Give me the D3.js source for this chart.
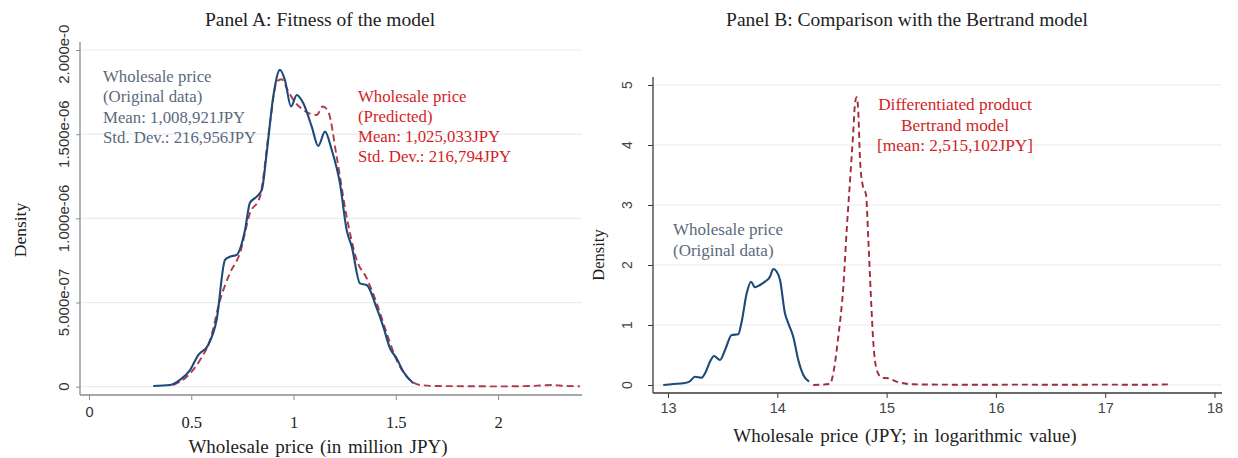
<!DOCTYPE html>
<html>
<head>
<meta charset="utf-8">
<script src="https://cdn.jsdelivr.net/npm/d3@7/dist/d3.min.js"></script>
<style>
  html, body { margin: 0; padding: 0; background: #ffffff; }
  svg { display: block; }
</style>
</head>
<body>
<svg id="chart" width="1238" height="458"></svg>
<script>
// ---- Panel A: kernel densities of wholesale price (million JPY), density in 1e-6 ----
const aOrigX = [0.314, 0.396, 0.445, 0.494, 0.534, 0.583, 0.624, 0.665, 0.689, 0.722, 0.763, 0.787, 0.820, 0.845, 0.869, 0.901, 0.934, 0.958, 0.988, 1.016, 1.048, 1.089, 1.121, 1.154, 1.187, 1.227, 1.260, 1.285, 1.325, 1.358, 1.407, 1.439, 1.472, 1.504, 1.537, 1.586];
const aOrigY = [0.004, 0.010, 0.040, 0.099, 0.188, 0.248, 0.396, 0.753, 0.772, 0.783, 0.931, 1.092, 1.129, 1.169, 1.389, 1.723, 1.882, 1.822, 1.664, 1.733, 1.684, 1.545, 1.430, 1.515, 1.406, 1.209, 0.931, 0.832, 0.614, 0.604, 0.466, 0.357, 0.228, 0.169, 0.089, 0.020];
const aPredX = [0.412, 0.478, 0.543, 0.592, 0.641, 0.689, 0.738, 0.787, 0.836, 0.885, 0.918, 0.942, 0.967, 0.999, 1.048, 1.113, 1.143, 1.170, 1.211, 1.260, 1.309, 1.358, 1.407, 1.456, 1.504, 1.570, 1.619, 1.700, 1.850, 2.000, 2.150, 2.220, 2.270, 2.330, 2.400];
const aPredY = [0.010, 0.059, 0.159, 0.277, 0.515, 0.674, 0.793, 1.030, 1.129, 1.565, 1.812, 1.826, 1.773, 1.704, 1.644, 1.614, 1.664, 1.634, 1.367, 1.010, 0.753, 0.644, 0.496, 0.317, 0.159, 0.040, 0.010, 0.004, 0.003, 0.002, 0.004, 0.008, 0.010, 0.004, 0.003];
const aDensityUnit = 1e-6;
const aXTicks = [0, 0.5, 1, 1.5, 2];
const aXTickLabels = ["0", "0.5", "1", "1.5", "2"];
const aYTicks = [0, 0.5e-6, 1e-6, 1.5e-6, 2e-6];
const aYTickLabels = ["0", "5.000e-07", "1.000e-06", "1.500e-06", "2.000e-06"];
const aOrigNote = ["Wholesale price", "(Original  data)", "Mean: 1,008,921JPY", "Std. Dev.: 216,956JPY"];
const aPredNote = ["Wholesale price", "(Predicted)", "Mean: 1,025,033JPY", "Std. Dev.: 216,794JPY"];

// ---- Panel B: log wholesale price densities ----
const bOrigX = [12.957, 13.048, 13.140, 13.195, 13.247, 13.308, 13.339, 13.384, 13.421, 13.476, 13.522, 13.583, 13.643, 13.674, 13.720, 13.759, 13.796, 13.842, 13.887, 13.933, 13.963, 13.995, 14.025, 14.070, 14.101, 14.146, 14.192, 14.238, 14.290];
const bOrigY = [0.000, 0.017, 0.028, 0.055, 0.138, 0.122, 0.195, 0.388, 0.483, 0.417, 0.583, 0.833, 0.845, 1.055, 1.528, 1.722, 1.628, 1.667, 1.722, 1.805, 1.933, 1.888, 1.750, 1.195, 1.028, 0.805, 0.417, 0.167, 0.055];
const bBertX = [14.329, 14.482, 14.512, 14.558, 14.604, 14.635, 14.672, 14.696, 14.711, 14.726, 14.741, 14.757, 14.781, 14.812, 14.833, 14.855, 14.879, 14.910, 14.955, 15.016, 15.092, 15.244, 15.400, 15.800, 16.200, 16.600, 17.000, 17.400, 17.610];
const bBertY = [0.000, 0.017, 0.195, 0.805, 1.638, 2.583, 3.583, 4.250, 4.695, 4.795, 4.555, 3.750, 3.333, 3.167, 2.417, 1.528, 0.695, 0.250, 0.122, 0.112, 0.055, 0.012, 0.008, 0.004, 0.006, 0.004, 0.006, 0.004, 0.012];
const bXTicks = [13, 14, 15, 16, 17, 18];
const bYTicks = [0, 1, 2, 3, 4, 5];
const bOrigNote = ["Wholesale price", "(Original  data)"];
const bBertNote = ["Differentiated  product", "Bertrand model", "[mean: 2,515,102JPY]"];

const SERIF = "'Liberation Serif', 'Times New Roman', serif";
const SANS = "'Liberation Sans', Arial, sans-serif";
const BLUE = "#1d4a78";
const RED_LINE = "#b23a48";
const RED_LINE_B = "#a02c3a";
const RED_TEXT = "#d21f26";
const SLATE = "#5b6a7d";
const GRID = "#e5eef2";

const svg = d3.select("#chart");

// ===================== Panel A =====================
const ax = d3.scaleLinear().domain([0, 2]).range([89, 498]);
const ay = d3.scaleLinear().domain([0, 2e-6]).range([386.7, 50]);
const A_LEFT = 80, A_RIGHT = 582, A_TOP = 42, A_BOTTOM = 395;

const gA = svg.append("g");

gA.append("text").attr("x", 320).attr("y", 19)
  .attr("text-anchor", "middle").attr("dominant-baseline", "central")
  .style("font-family", SERIF).style("font-size", "19.5px").attr("fill", "#222")
  .text("Panel A: Fitness of the model");

// gridlines
gA.append("g").selectAll("line").data(aYTicks).join("line")
  .attr("x1", A_LEFT + 1).attr("x2", A_RIGHT)
  .attr("y1", d => ay(d)).attr("y2", d => ay(d))
  .attr("stroke", GRID).attr("stroke-width", 1.2);

// y axis; the top label is clipped at the upper edge of the panel
const aClip = svg.append("defs").append("clipPath").attr("id", "aYLabClip");
aClip.append("rect").attr("x", 0).attr("y", 24).attr("width", A_LEFT).attr("height", 420);

const aYAxis = gA.append("g").attr("transform", `translate(${A_LEFT},0)`)
  .call(d3.axisLeft(ay).tickValues(aYTicks).tickSize(4).tickFormat(""));
aYAxis.select(".domain").attr("d", `M0,${A_TOP}V${A_BOTTOM}`).attr("stroke", "#8a8a8a").attr("stroke-width", 1.3);
aYAxis.selectAll(".tick line").attr("stroke", "#8a8a8a");
gA.append("g").attr("clip-path", "url(#aYLabClip)")
  .selectAll("text").data(aYTicks).join("text")
  .attr("transform", d => `translate(63,${ay(d)}) rotate(-90)`)
  .attr("text-anchor", "middle").attr("dominant-baseline", "central")
  .style("font-family", SANS).style("font-size", "15px").attr("fill", "#333")
  .text((d, i) => aYTickLabels[i]);

// x axis
const aXAxis = gA.append("g").attr("transform", `translate(0,${A_BOTTOM})`)
  .call(d3.axisBottom(ax).tickValues(aXTicks).tickSize(5).tickFormat((d, i) => aXTickLabels[i]));
aXAxis.select(".domain").attr("d", `M${A_LEFT},0H${A_RIGHT}`).attr("stroke", "#8a8a8a").attr("stroke-width", 1.3);
aXAxis.selectAll(".tick line").attr("stroke", "#8a8a8a");
aXAxis.selectAll(".tick text")
  .attr("y", 27).attr("dy", "0.35em")
  .style("font-family", SERIF).style("font-size", "16.5px").attr("fill", "#222");
aXAxis.selectAll(".tick").filter(d => d === 0).select("text")
  .attr("y", 17).style("font-family", SANS).style("font-size", "14.5px").attr("fill", "#333");

gA.append("text").attr("x", 318).attr("y", 446)
  .attr("text-anchor", "middle").attr("dominant-baseline", "central")
  .style("font-family", SERIF).style("font-size", "19px").style("word-spacing", "2px").attr("fill", "#222")
  .text("Wholesale price (in million JPY)");
gA.append("text").attr("transform", "translate(20,230) rotate(-90)")
  .attr("text-anchor", "middle").attr("dominant-baseline", "central")
  .style("font-family", SERIF).style("font-size", "17.5px").attr("fill", "#222")
  .text("Density");

const lineA = d3.line().curve(d3.curveMonotoneX);
const aPred = aPredX.map((x, i) => [ax(x), ay(aPredY[i] * aDensityUnit)]);
const aOrig = aOrigX.map((x, i) => [ax(x), ay(aOrigY[i] * aDensityUnit)]);
gA.append("path").attr("d", lineA(aPred)).attr("fill", "none")
  .attr("stroke", RED_LINE).attr("stroke-width", 1.9).attr("stroke-dasharray", "7,4");
gA.append("path").attr("d", lineA(aOrig)).attr("fill", "none")
  .attr("stroke", BLUE).attr("stroke-width", 2.1);

const noteA1 = gA.append("text").style("font-family", SERIF).style("font-size", "16.8px").attr("fill", SLATE);
aOrigNote.forEach((t, i) => noteA1.append("tspan").attr("x", 103).attr("y", 82 + i * 20.3).text(t));
const noteA2 = gA.append("text").style("font-family", SERIF).style("font-size", "16.8px").attr("fill", RED_TEXT);
aPredNote.forEach((t, i) => noteA2.append("tspan").attr("x", 358).attr("y", 102 + i * 20).text(t));

// ===================== Panel B =====================
const bx = d3.scaleLinear().domain([13, 18]).range([668, 1214.5]);
const by = d3.scaleLinear().domain([0, 5]).range([385, 85]);
const B_LEFT = 653, B_RIGHT = 1222, B_TOP = 77, B_BOTTOM = 393;

const gB = svg.append("g");
gB.append("text").attr("x", 907).attr("y", 19)
  .attr("text-anchor", "middle").attr("dominant-baseline", "central")
  .style("font-family", SERIF).style("font-size", "19.5px").attr("fill", "#222")
  .text("Panel B: Comparison with the Bertrand model");

gB.append("g").selectAll("line").data(bYTicks).join("line")
  .attr("x1", B_LEFT + 1).attr("x2", B_RIGHT)
  .attr("y1", d => by(d)).attr("y2", d => by(d))
  .attr("stroke", GRID).attr("stroke-width", 1.2);

const bYAxis = gB.append("g").attr("transform", `translate(${B_LEFT},0)`)
  .call(d3.axisLeft(by).tickValues(bYTicks).tickSize(5).tickFormat(""));
bYAxis.select(".domain").attr("d", `M0,${B_TOP}V${B_BOTTOM}`).attr("stroke", "#3a3a3a").attr("stroke-width", 1.3);
bYAxis.selectAll(".tick line").attr("stroke", "#3a3a3a");
gB.append("g").selectAll("text").data(bYTicks).join("text")
  .attr("transform", d => `translate(627,${by(d)}) rotate(-90)`)
  .attr("text-anchor", "middle").attr("dominant-baseline", "central")
  .style("font-family", SANS).style("font-size", "14px").attr("fill", "#444")
  .text(d => d3.format("d")(d));

const bXAxis = gB.append("g").attr("transform", `translate(0,${B_BOTTOM})`)
  .call(d3.axisBottom(bx).tickValues(bXTicks).tickSize(5).tickFormat(d3.format("d")));
bXAxis.select(".domain").attr("d", `M${B_LEFT},0H${B_RIGHT}`).attr("stroke", "#3a3a3a").attr("stroke-width", 1.3);
bXAxis.selectAll(".tick line").attr("stroke", "#3a3a3a");
bXAxis.selectAll(".tick text")
  .attr("y", 15).attr("dy", "0.35em")
  .style("font-family", SANS).style("font-size", "14.5px").attr("fill", "#444");

gB.append("text").attr("x", 905).attr("y", 435)
  .attr("text-anchor", "middle").attr("dominant-baseline", "central")
  .style("font-family", SERIF).style("font-size", "19px").style("word-spacing", "2px").attr("fill", "#222")
  .text("Wholesale price (JPY; in logarithmic value)");
gB.append("text").attr("transform", "translate(598,255) rotate(-90)")
  .attr("text-anchor", "middle").attr("dominant-baseline", "central")
  .style("font-family", SERIF).style("font-size", "16.5px").attr("fill", "#222")
  .text("Density");

const lineB = d3.line().curve(d3.curveMonotoneX);
const bBert = bBertX.map((x, i) => [bx(x), by(bBertY[i])]);
const bOrig = bOrigX.map((x, i) => [bx(x), by(bOrigY[i])]);
gB.append("path").attr("d", lineB(bBert)).attr("fill", "none")
  .attr("stroke", RED_LINE_B).attr("stroke-width", 1.9).attr("stroke-dasharray", "6,4");
gB.append("path").attr("d", lineB(bOrig)).attr("fill", "none")
  .attr("stroke", BLUE).attr("stroke-width", 2.1);

const noteB1 = gB.append("text").style("font-family", SERIF).style("font-size", "17px").attr("fill", SLATE);
bOrigNote.forEach((t, i) => noteB1.append("tspan").attr("x", 673).attr("y", 235 + i * 21).text(t));
const noteB2 = gB.append("text").attr("text-anchor", "middle")
  .style("font-family", SERIF).style("font-size", "17.3px").attr("fill", RED_TEXT);
bBertNote.forEach((t, i) => noteB2.append("tspan").attr("x", 955).attr("y", 110 + i * 20.5).text(t));
</script>
</body>
</html>
